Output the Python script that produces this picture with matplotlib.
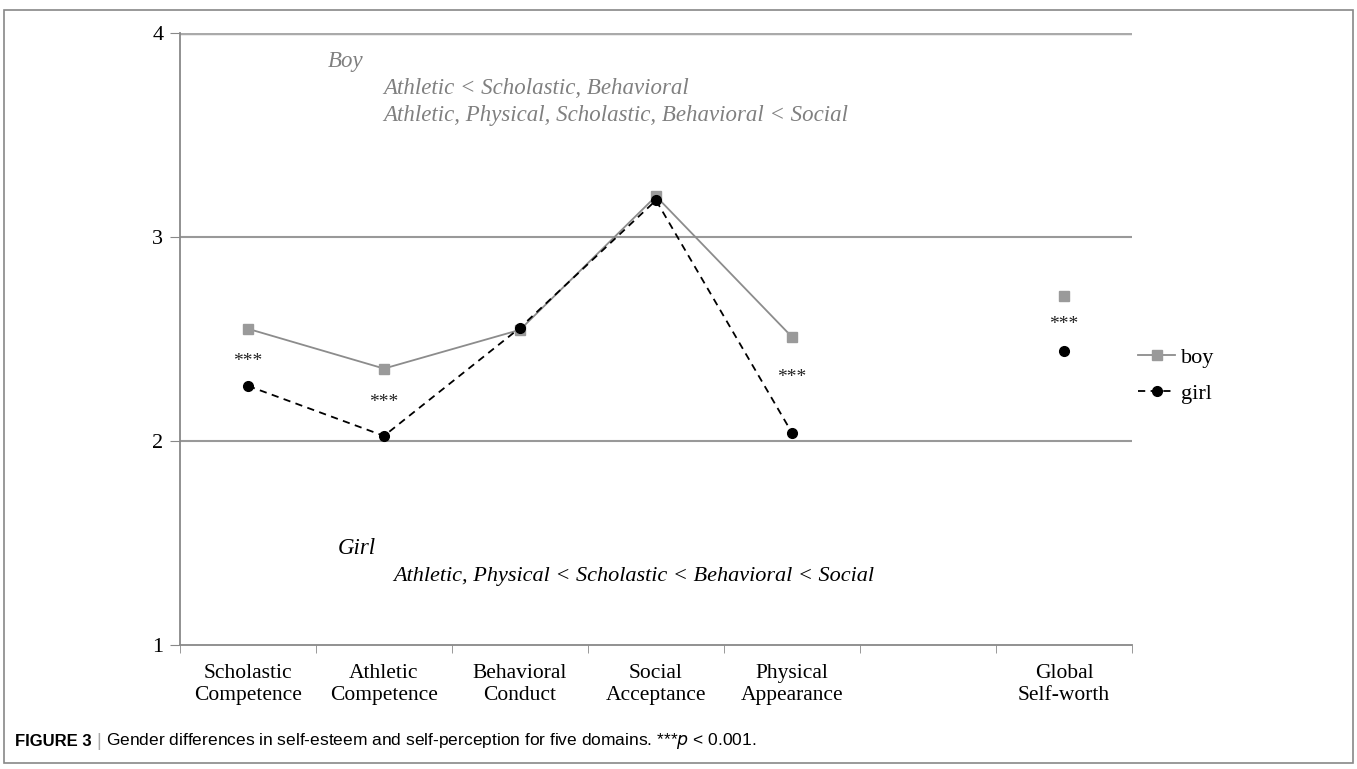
import matplotlib.pyplot as plt
from matplotlib.patches import Rectangle

# Data
categories = ["Scholastic\nCompetence", "Athletic\nCompetence", "Behavioral\nConduct",
              "Social\nAcceptance", "Physical\nAppearance", "", "Global\nSelf-worth"]
domain_idx = [0, 1, 2, 3, 4]
boy_domains = [2.55, 2.355, 2.545, 3.20, 2.51]
girl_domains = [2.27, 2.025, 2.555, 3.18, 2.04]
global_idx = 6
boy_global = 2.71
girl_global = 2.44
star_idx = [0, 1, 4, 6]
star_y = [2.39, 2.19, 2.31, 2.57]

plt.rcParams['font.family'] = ['Liberation Serif', 'DejaVu Serif']

fig = plt.figure(figsize=(13.57, 7.69), dpi=100)
ax = fig.add_axes([180 / 1357, 1 - 645 / 769, 952 / 1357, 612 / 769])

# figure frame
fig.patches.append(Rectangle((4 / 1357, 1 - 763 / 769), 1349 / 1357, 753 / 769,
                             transform=fig.transFigure, fill=False,
                             edgecolor='#888888', linewidth=1.2))

ax.plot(domain_idx, boy_domains, color='#8c8c8c', lw=1.3, marker='s', ms=7,
        mfc='#9a9a9a', mec='#9a9a9a', label='boy', zorder=3)
ax.plot(domain_idx, girl_domains, color='black', lw=1.3, ls=(0, (4, 3)), marker='o',
        ms=7, mfc='black', mec='black', label='girl', zorder=4)
ax.plot([global_idx], [boy_global], ls='none', marker='s', ms=7, mfc='#9a9a9a',
        mec='#9a9a9a', zorder=3)
ax.plot([global_idx], [girl_global], ls='none', marker='o', ms=7, mfc='black',
        mec='black', zorder=4)

for xi, yi in zip(star_idx, star_y):
    ax.text(xi, yi, '***', ha='center', va='center', fontsize=14, color='#222222')

ax.set_xlim(-0.5, 6.5)
ax.set_ylim(1, 4)
ax.set_yticks([1, 2, 3, 4])
ax.set_yticklabels(['1', '2', '3', '4'], fontsize=16)
ax.set_xticks(range(7))
ax.set_xticklabels(categories, fontsize=15.5)
ax.set_xticks([i - 0.5 for i in range(8)], minor=True)
ax.tick_params(axis='x', which='major', length=0, pad=14)
ax.tick_params(axis='x', which='minor', length=6, color='#888888', direction='out')
ax.tick_params(axis='y', length=7, color='#888888', direction='out', pad=5)
for y in [2, 3]:
    ax.axhline(y, color='#999999', lw=1.5, zorder=1)
ax.axhline(4, color='#aaaaaa', lw=2.5, zorder=1)
for s in ['top', 'right']:
    ax.spines[s].set_visible(False)
for s in ['left', 'bottom']:
    ax.spines[s].set_color('#888888')
    ax.spines[s].set_linewidth(1.3)

boy_color = '#808080'
fig.text(328 / 1357, 1 - 62 / 769, 'Boy', style='italic', fontsize=16.5,
         color=boy_color, va='center')
fig.text(383 / 1357, 1 - 88 / 769, 'Athletic < Scholastic, Behavioral',
         style='italic', fontsize=16.5, color=boy_color, va='center')
fig.text(383 / 1357, 1 - 115 / 769, 'Athletic, Physical, Scholastic, Behavioral < Social',
         style='italic', fontsize=16.5, color=boy_color, va='center')
fig.text(338 / 1357, 1 - 548 / 769, 'Girl', style='italic', fontsize=16.5,
         color='black', va='center')
fig.text(393 / 1357, 1 - 576 / 769, 'Athletic, Physical < Scholastic < Behavioral < Social',
         style='italic', fontsize=16, color='black', va='center')

leg = ax.legend(loc='center left', bbox_to_anchor=(1.006, 0.44), frameon=False,
                fontsize=16, handlelength=1.7, handletextpad=0.23, labelspacing=0.67,
                borderpad=0, borderaxespad=0)

fig.text(15 / 1357, 1 - 741 / 769, 'FIGURE 3', family=['Liberation Sans'],
         weight='bold', fontsize=12, va='center')
fig.text(96 / 1357, 1 - 741 / 769, '|', family='Liberation Sans', fontsize=13,
         color='#aaaaaa', va='center')
fig.text(106 / 1357, 1 - 741 / 769,
         'Gender differences in self-esteem and self-perception for five domains. ***$\\it{p}$ < 0.001.',
         family=['Liberation Sans'], fontsize=12.5, va='center')

fig.savefig('out.png', dpi=100)
